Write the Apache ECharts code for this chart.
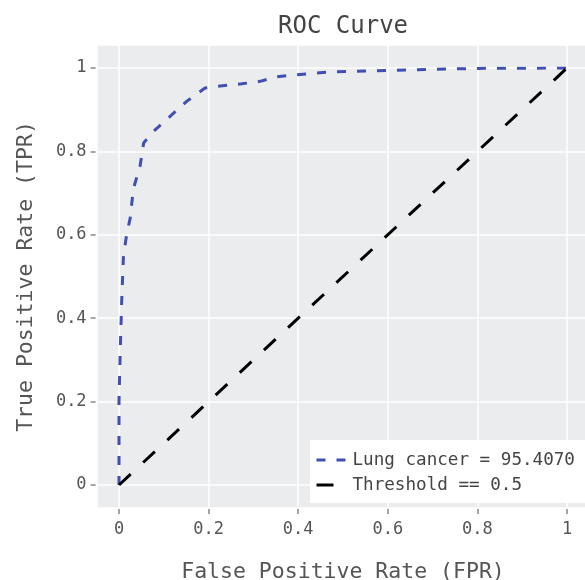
<!DOCTYPE html>
<html lang="en">
<head>
    <meta charset="UTF-8">
    <title>ROC Curve</title>
    <script type="text/javascript" src="https://cdn.jsdelivr.net/npm/echarts@6/dist/echarts.min.js"></script>
</head>
<body style="margin:0">
<div id="main" style="width: 585px;height: 580px"></div>
<script type="text/javascript">
    // ROC points
    var fpr = [0, 0, 0.003, 0.006, 0.010, 0.017, 0.025, 0.032, 0.047, 0.055, 0.073, 0.114, 0.151,
        0.192, 0.22, 0.274, 0.315, 0.352, 0.397, 0.478, 0.597, 0.798, 1];
    var tpr = [0, 0.2, 0.33, 0.44, 0.55, 0.6, 0.64, 0.71, 0.765, 0.82, 0.844, 0.884, 0.92,
        0.952, 0.956, 0.962, 0.968, 0.979, 0.984, 0.991, 0.994, 0.999, 1];
    var diagX = [0, 1];
    var diagY = [0, 1];
    var seriesNames = ['Lung cancer = 95.4070', 'Threshold == 0.5'];

    var font = 'DejaVu Sans Mono';
    // plot box for 0..1, and padding of the grey panel around it
    var x0 = 119, y1 = 68, unitW = 448, unitH = 417;
    var padX = 0.05, padY = 0.055;

    function pairs(xs, ys) {
        var out = [];
        for (var i = 0; i < xs.length; i++) out.push([xs[i], ys[i]]);
        return out;
    }

    var myChart = echarts.init(document.getElementById('main'));
    var option = {
        backgroundColor: '#fff',
        title: {
            text: 'ROC Curve',
            left: 278,
            top: 15,
            padding: 0,
            textStyle: {fontFamily: font, fontSize: 24, fontWeight: 'normal', color: '#444'}
        },
        legend: {
            orient: 'vertical',
            left: 310,
            top: 440,
            padding: [11, 20, 9, 5],
            backgroundColor: '#fff',
            itemWidth: 31,
            itemHeight: 14,
            itemGap: 7,
            textStyle: {fontFamily: font, fontSize: 17.6, color: '#444', lineHeight: 18},
            data: [
                {name: seriesNames[0], itemStyle: {opacity: 0},
                    lineStyle: {type: [9, 11], width: 3, color: '#3f4fb3'}},
                {name: seriesNames[1], itemStyle: {opacity: 0},
                    lineStyle: {type: [17, 20], width: 3, color: '#000'}}
            ]
        },
        grid: [
            {   // grey panel
                left: x0 - padX * unitW,
                top: y1 - padY * unitH,
                width: unitW * (1 + 2 * padX),
                height: unitH * (1 + 2 * padY),
                outerBoundsMode: 'none',
                show: true,
                backgroundColor: '#ebeced',
                borderWidth: 0
            },
            {   // 0..1 box
                left: x0,
                top: y1,
                width: unitW,
                height: unitH,
                outerBoundsMode: 'none'
            }
        ],
        xAxis: [
            {
                gridIndex: 0, type: 'value', min: -padX, max: 1 + padX,
                axisLine: {show: false}, axisTick: {show: false}, axisLabel: {show: false},
                splitLine: {lineStyle: {color: '#fff', width: 1.5}}
            },
            {
                gridIndex: 1, type: 'value', min: 0, max: 1, interval: 0.2,
                position: 'bottom',
                offset: padY * unitH + 1,
                name: 'False Positive Rate (FPR)',
                nameLocation: 'middle',
                nameGap: 52,
                nameTextStyle: {fontFamily: font, fontSize: 21.5, color: '#555'},
                axisLine: {show: false, onZero: false},
                axisTick: {show: true, length: 5, lineStyle: {color: '#888', width: 1.5}},
                axisLabel: {fontFamily: font, fontSize: 17, color: '#555', margin: 12},
                splitLine: {show: false}
            }
        ],
        yAxis: [
            {
                gridIndex: 0, type: 'value', min: -padY, max: 1 + padY,
                axisLine: {show: false}, axisTick: {show: false}, axisLabel: {show: false},
                splitLine: {lineStyle: {color: '#fff', width: 1.5}}
            },
            {
                gridIndex: 1, type: 'value', min: 0, max: 1, interval: 0.2,
                position: 'left',
                offset: padX * unitW + 1,
                name: 'True Positive Rate (TPR)',
                nameLocation: 'middle',
                nameGap: 58,
                nameTextStyle: {fontFamily: font, fontSize: 21.5, color: '#555'},
                axisLine: {show: false, onZero: false},
                axisTick: {show: true, length: 5, lineStyle: {color: '#888', width: 1.5}},
                axisLabel: {fontFamily: font, fontSize: 17, color: '#555', margin: 9},
                splitLine: {show: false}
            }
        ],
        series: [
            {
                name: seriesNames[0],
                type: 'line',
                xAxisIndex: 1, yAxisIndex: 1,
                data: pairs(fpr, tpr),
                symbol: 'none',
                clip: false,
                lineStyle: {color: '#3f4fb3', width: 3, type: [9, 11]},
                itemStyle: {color: '#3f4fb3'},
                z: 3
            },
            {
                name: seriesNames[1],
                type: 'line',
                xAxisIndex: 1, yAxisIndex: 1,
                data: pairs(diagX, diagY),
                symbol: 'none',
                clip: false,
                lineStyle: {color: '#000', width: 3, type: [16, 17]},
                itemStyle: {color: '#000'},
                z: 3
            }
        ]
    };
    myChart.setOption(option);
</script>
</body>
</html>
